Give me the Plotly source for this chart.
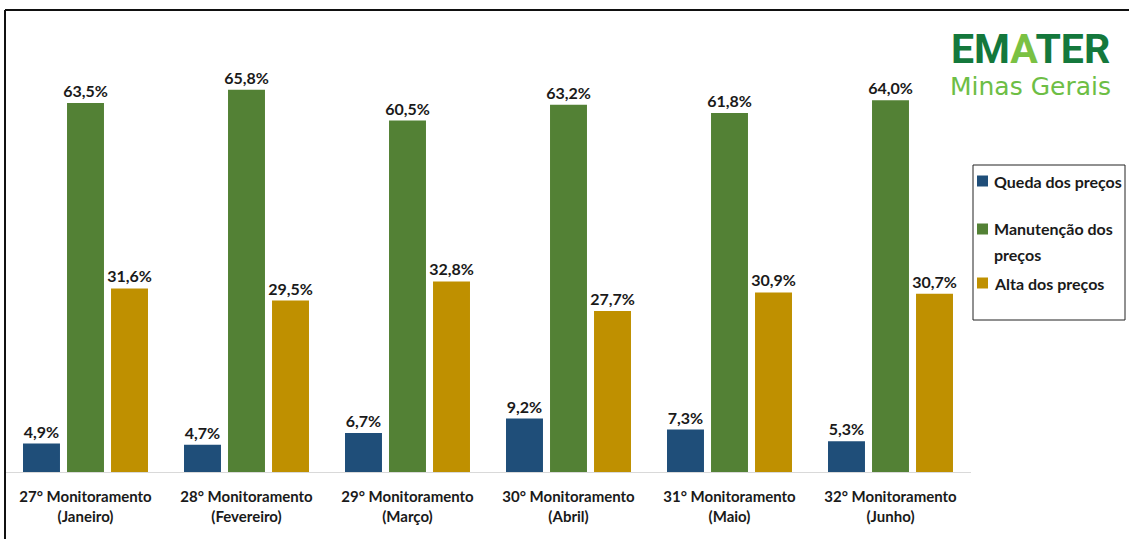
import plotly.graph_objects as go

categories = [
    "27° Monitoramento<br>(Janeiro)",
    "28° Monitoramento<br>(Fevereiro)",
    "29° Monitoramento<br>(Março)",
    "30° Monitoramento<br>(Abril)",
    "31° Monitoramento<br>(Maio)",
    "32° Monitoramento<br>(Junho)",
]
queda = [4.9, 4.7, 6.7, 9.2, 7.3, 5.3]
manutencao = [63.5, 65.8, 60.5, 63.2, 61.8, 64.0]
alta = [31.6, 29.5, 32.8, 27.7, 30.9, 30.7]

series_names = ["Queda dos preços", "Manutenção dos preços", "Alta dos preços"]
series_colors = ["#1F4E79", "#538135", "#BF9000"]

# legend entries: text lines per series and the pixel row of each line
legend_lines = [["Queda dos preços"], ["Manutenção dos", "preços"], ["Alta dos preços"]]
legend_rows = [[181], [229, 254], [283]]

W, H = 1129, 539
L, R, T, B = 5, 158, 30, 67
PW, PH = W - L - R, H - T - B


def px_x(px):
    return (px - L) / PW


def px_y(py):
    return (H - B - py) / PH


FONT = "Lato"
TEXT = "#1a1a1a"

fig = go.Figure()
for name, vals, col in zip(series_names, [queda, manutencao, alta], series_colors):
    fig.add_trace(go.Bar(
        x=categories, y=vals, name=name,
        marker=dict(color=col, line=dict(width=0)),
        texttemplate="%{y:.1f}%", textposition="outside",
        textfont=dict(family=FONT, size=16, color=TEXT, weight="bold"),
        constraintext="none", cliponaxis=False, showlegend=False,
    ))

shapes = [
    # legend frame
    dict(type="rect", xref="paper", yref="paper",
         x0=px_x(973), x1=px_x(1125), y0=px_y(320), y1=px_y(165),
         line=dict(color="#222222", width=1), fillcolor="rgba(0,0,0,0)"),
    # chart frame: top and left edges
    dict(type="line", xref="paper", yref="paper",
         x0=px_x(5), x1=px_x(1129), y0=px_y(10), y1=px_y(10),
         line=dict(color="#111111", width=2)),
    dict(type="line", xref="paper", yref="paper",
         x0=px_x(5), x1=px_x(5), y0=px_y(10), y1=px_y(539),
         line=dict(color="#111111", width=2)),
]
annotations = [
    dict(text="<b>EM<span style='color:#7AC143'>A</span>TER</b>",
         xref="paper", yref="paper", x=px_x(1030), y=px_y(49),
         xanchor="center", yanchor="middle", showarrow=False,
         font=dict(family="Roboto", size=41, color="#14783C")),
    dict(text="Minas Gerais",
         xref="paper", yref="paper", x=px_x(1030), y=px_y(86),
         xanchor="center", yanchor="middle", showarrow=False,
         font=dict(family="DejaVu Sans", size=25, color="#6DBE45")),
]

# legend: colour swatch beside the first line of each entry
for lines, rows, col in zip(legend_lines, legend_rows, series_colors):
    shapes.append(dict(type="rect", xref="paper", yref="paper",
                       x0=px_x(977), x1=px_x(988),
                       y0=px_y(rows[0] + 5.5), y1=px_y(rows[0] - 5.5),
                       line=dict(width=0), fillcolor=col))
    for txt, row in zip(lines, rows):
        annotations.append(dict(text=txt, xref="paper", yref="paper",
                                x=px_x(992), y=px_y(row),
                                xanchor="left", yanchor="middle", showarrow=False,
                                font=dict(family=FONT, size=16, color=TEXT, weight="bold")))

fig.update_layout(
    width=W, height=H,
    margin=dict(l=L, r=R, t=T, b=B, autoexpand=False),
    paper_bgcolor="white", plot_bgcolor="white",
    separators=",.",
    barmode="group", bargap=0.18, bargroupgap=0.16,
    font=dict(family=FONT, color=TEXT),
    xaxis=dict(
        showline=True, linecolor="#d9d9d9", linewidth=1,
        tickfont=dict(family=FONT, size=15, color=TEXT, weight="bold"),
        ticks="", showgrid=False, ticklabelstandoff=11,
    ),
    yaxis=dict(range=[0, 442 / 5.81], visible=False, showgrid=False),
    showlegend=False,
    shapes=shapes,
    annotations=annotations,
)

fig.write_html("out.html")
